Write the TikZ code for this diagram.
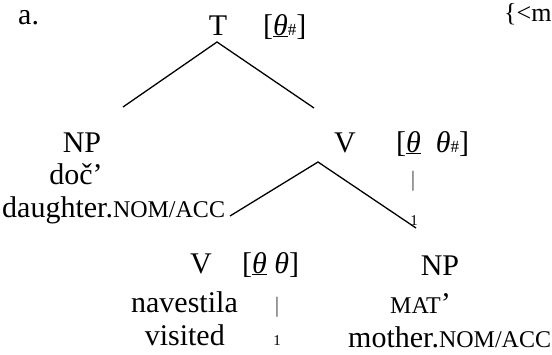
\documentclass[tikz,border=0pt]{standalone}
\usepackage{fontspec}
\setmainfont{Liberation Serif}
\usetikzlibrary{calc}
\newcommand{\smc}[1]{{\fontsize{24}{24}\selectfont #1}}
\newcommand{\tht}{\textit{θ}}
\newcommand{\utht}{\underline{\textit{θ}}}
\newcommand{\hsh}{{\fontsize{17}{17}\selectfont\#}}

\begin{document}
\begin{tikzpicture}[
    x=1pt, y=-1pt,
    lab/.style={font=\fontsize{30}{36}\selectfont, inner sep=0pt, anchor=base},
    featr/.style={lab, anchor=base west},
    bar/.style={font=\fontsize{22}{22}\selectfont, inner sep=0pt, text=black!70},
    idx/.style={font=\fontsize{15}{15}\selectfont, inner sep=0pt, anchor=base},
    branch/.style={line width=1.3pt},
]
\useasboundingbox (0,0) rectangle (552,354);
% === Top: T ===
\node[lab, anchor=base west] (ex) at (18,24) {a.};
\node[lab] (T) at (218,35) {T};
\node[featr] (Tf) at (263,35) {[\utht\hsh]};
\node[lab, anchor=base west, font=\fontsize{26}{30}\selectfont] (note) at (504,21) {\{<mo};
\coordinate (Tj) at (217,42);
\coordinate (Tl) at (123,107);
\coordinate (Tr) at (314,108);
\draw[branch] (Tl) -- (Tj) -- (Tr);
% === Left: NP ===
\node[lab] (np1) at (82,152) {NP};
\node[lab] (np1a) at (76,184) {doč’};
\node[lab, anchor=base west] (np1b) at (2,217) {daughter.\smc{NOM/ACC}};
% === Middle: V ===
\node[lab] (V1) at (345,152) {V};
\node[featr] (V1f) at (396,152) {[\utht\ \ \tht\hsh]};
\node[bar] (V1bar) at (413,181) {|};
\node[idx] (V1idx) at (414,225) {1};
\coordinate (Vj) at (318,162);
\coordinate (Vl) at (230,216);
\coordinate (Vr) at (416,228);
\draw[branch] (Vl) -- (Vj) -- (Vr);
% === Bottom left: V ===
\node[lab] (V2) at (201,273) {V};
\node[featr] (V2f) at (242,273) {[\utht\ \tht]};
\node[lab, anchor=base east] (V2a) at (238,312) {navestila};
\node[lab, anchor=base east] (V2b) at (225,345) {visited};
\node[bar] (V2bar) at (277,307) {|};
\node[idx] (V2idx) at (277,345) {1};
% === Bottom right: NP ===
\node[lab] (np2) at (440,275) {NP};
\node[lab, anchor=base west] (np2a) at (390,313) {\smc{MAT}’};
\node[lab, anchor=base west] (np2b) at (348,347) {mother.\smc{NOM/ACC}};
\end{tikzpicture}
\end{document}
